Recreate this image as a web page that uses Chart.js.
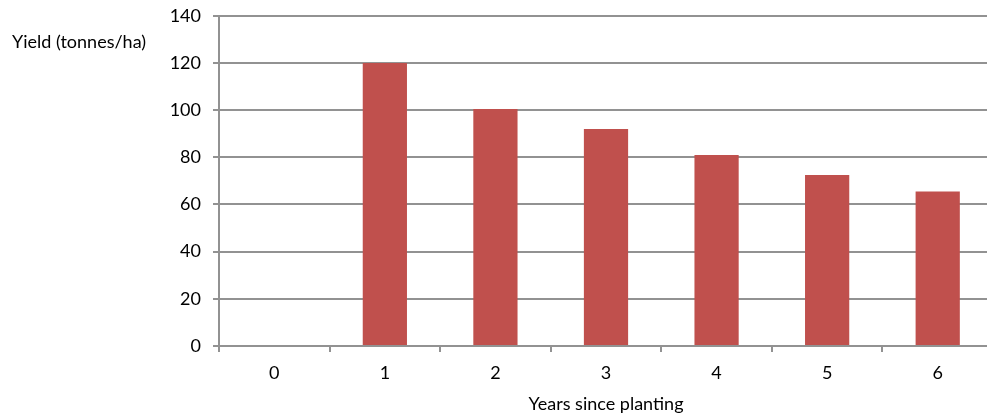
<!DOCTYPE html>
<html>
<head>
<meta charset="utf-8">
<script src="https://cdn.jsdelivr.net/npm/chart.js@4/dist/chart.umd.min.js"></script>
<style>
  html, body { margin: 0; padding: 0; background: #fff; overflow: hidden; }
  #wrap { position: relative; top: -7px; width: 993px; height: 426px; }
</style>
</head>
<body>
<div id="wrap"><canvas id="chart"></canvas></div>
<script>
// Yield per year after planting
const years = ['0', '1', '2', '3', '4', '5', '6'];
const yieldValues = [0, 120, 100.5, 92, 81, 72.5, 65.5];
const yTicks = [0, 20, 40, 60, 80, 100, 120, 140];

const FONT = 'Lato, "Open Sans", sans-serif';
const GRID = '#929292';
const TEXT = '#000000';

// Horizontal y-axis caption placed to the left of the top ticks
const yCaption = {
  id: 'yCaption',
  afterDraw(chart) {
    const { ctx, chartArea } = chart;
    ctx.save();
    ctx.font = '18px ' + FONT;
    ctx.fillStyle = TEXT;
    ctx.textAlign = 'left';
    ctx.textBaseline = 'middle';
    ctx.fillText('Yield (tonnes/ha)', 12, chartArea.top + 26);
    ctx.restore();
  }
};

new Chart(document.getElementById('chart'), {
  type: 'bar',
  data: {
    labels: years,
    datasets: [{
      data: yieldValues,
      backgroundColor: '#C0504D',
      borderWidth: 0,
      categoryPercentage: 1,
      barPercentage: 0.4
    }]
  },
  options: {
    responsive: true,
    maintainAspectRatio: false,
    animation: false,
    layout: { padding: { top: 15, right: 0, bottom: 0, left: 0 } },
    plugins: { legend: { display: false }, tooltip: { enabled: false } },
    scales: {
      x: {
        offset: true,
        afterFit(scale) { scale.height = 73; },
        grid: {
          offset: true,
          drawOnChartArea: false,
          color: GRID,
          lineWidth: 2,
          tickLength: 6
        },
        border: { color: GRID, width: 2 },
        ticks: { color: TEXT, font: { family: FONT, size: 18 }, padding: 10 },
        title: {
          display: true,
          text: 'Years since planting',
          color: TEXT,
          font: { family: FONT, size: 18 },
          padding: { top: 6, bottom: 4 }
        }
      },
      y: {
        min: 0,
        max: 140,
        afterBuildTicks(scale) { scale.ticks = yTicks.map(v => ({ value: v })); },
        afterFit(scale) { scale.width = 219; },
        grid: { color: GRID, lineWidth: 2, tickLength: 6 },
        border: { color: GRID, width: 2 },
        ticks: { color: TEXT, font: { family: FONT, size: 18 }, padding: 12 }
      }
    }
  },
  plugins: [yCaption]
});
</script>
</body>
</html>
